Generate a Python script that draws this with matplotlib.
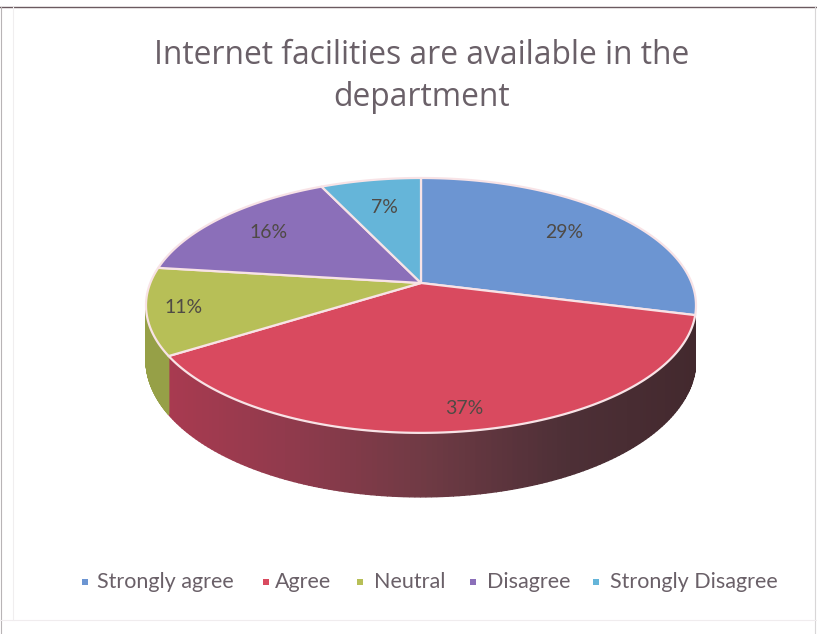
import numpy as np
import matplotlib
matplotlib.use("Agg")
import matplotlib.pyplot as plt
from matplotlib.colors import LinearSegmentedColormap

#==========================================================
# data
#==========================================================
categories = ["Strongly agree", "Agree", "Neutral", "Disagree", "Strongly Disagree"]
values = [29, 37, 11, 16, 7]
title_lines = ["Internet facilities are available in the", "department"]

colors = ["#6C95D2", "#D94A5F", "#B7BF57", "#8B6FB9", "#65B5D9"]
label_radius = [0.72, 0.87, 0.87, 0.75, 0.70]
legend_marker_x = [85, 266, 360, 473, 596]
legend_text_x = [97, 275, 374, 487, 610]

# pie geometry on the page, in pixels
CX, CY = 421.0, 283.0
AX, AY, K = 270.7, 123.5, 0.176
GREY = "#6A6068"
EDGE = "#F8E3E6"

def project(angle_deg, r=1.0):
    # tilted disc with perspective, angle measured from +x
    a = np.radians(angle_deg)
    X = r*np.cos(a)
    Y = r*np.sin(a)
    w = 1.0 + K*Y
    return CX + AX*X/w, CY - AY*Y/w

def wall_height(angle_deg):
    return 52.0 - 12.0*np.sin(np.radians(angle_deg))

plt.rcParams["font.family"] = ["Lato", "DejaVu Sans"]
fig = plt.figure(figsize=(8.17, 6.34), dpi=100)
ax = fig.add_axes([0, 0, 1, 1])
ax.set_xlim(0, 817)
ax.set_ylim(634, 0)
ax.axis("off")

# page frame
ax.plot([0, 817], [7, 7], color="#6B5A60", lw=1.0)
ax.plot([1, 1], [7, 634], color="#B8B4B6", lw=0.8)
ax.plot([13, 13], [7, 620], color="#F0EEEF", lw=0.8)
ax.plot([815, 815], [7, 634], color="#D8D6D7", lw=0.8)
ax.plot([0, 817], [620, 620], color="#F0ECEE", lw=0.8)

#==========================================================
# slices
#==========================================================
fracs = np.array(values, dtype=float)/sum(values)
edges = 90.0 - 360.0*np.concatenate([[0.0], np.cumsum(fracs)])

# side wall, front part only (red slice and visible bit of olive)
red_wall = LinearSegmentedColormap.from_list(
    "red_wall", ["#A83A50", "#8E3A4C", "#6E3A44", "#4E3037", "#43292E"])
for t0, t1, idx in [(edges[1], edges[2], 1), (edges[2], -168.0, 2)]:
    ang = np.linspace(t0, t1, 140)
    for a0, a1 in zip(ang[:-1], ang[1:]):
        x0, y0 = project(a0)
        x1, y1 = project(a1)
        if idx == 1:
            col = red_wall(np.clip((x0 - 170.0)/525.0, 0, 1))
        else:
            col = "#96A047"
        ax.fill([x0, x1, x1, x0],
                [y0, y1, y1 + wall_height(a1), y0 + wall_height(a0)],
                color=col, lw=1.0, zorder=2)

# top face
for i, val in enumerate(values):
    ang = np.linspace(edges[i], edges[i+1], 120)
    px, py = project(ang)
    ax.fill(np.r_[CX, px], np.r_[CY, py], facecolor=colors[i],
            edgecolor=EDGE, lw=1.6, joinstyle="round", zorder=3)

# data labels
for i, val in enumerate(values):
    mid = 0.5*(edges[i] + edges[i+1])
    lx, ly = project(mid, label_radius[i])
    ax.text(lx, ly, "%d%%" % val, ha="center", va="center",
            fontsize=14, color="#4F4A45", zorder=4)

#==========================================================
# title and legend
#==========================================================
ax.text(422, 55, title_lines[0], ha="center", va="center", fontsize=22.9,
        color=GREY, family=["Open Sans", "DejaVu Sans"])
ax.text(422, 97, title_lines[1], ha="center", va="center", fontsize=22.9,
        color=GREY, family=["Open Sans", "DejaVu Sans"])

for i, name in enumerate(categories):
    ax.scatter([legend_marker_x[i]], [582], marker="s", s=22, color=colors[i], lw=0)
    ax.text(legend_text_x[i], 582, name, ha="left", va="center", fontsize=15.5, color=GREY)

fig.savefig("out.png", dpi=100)
